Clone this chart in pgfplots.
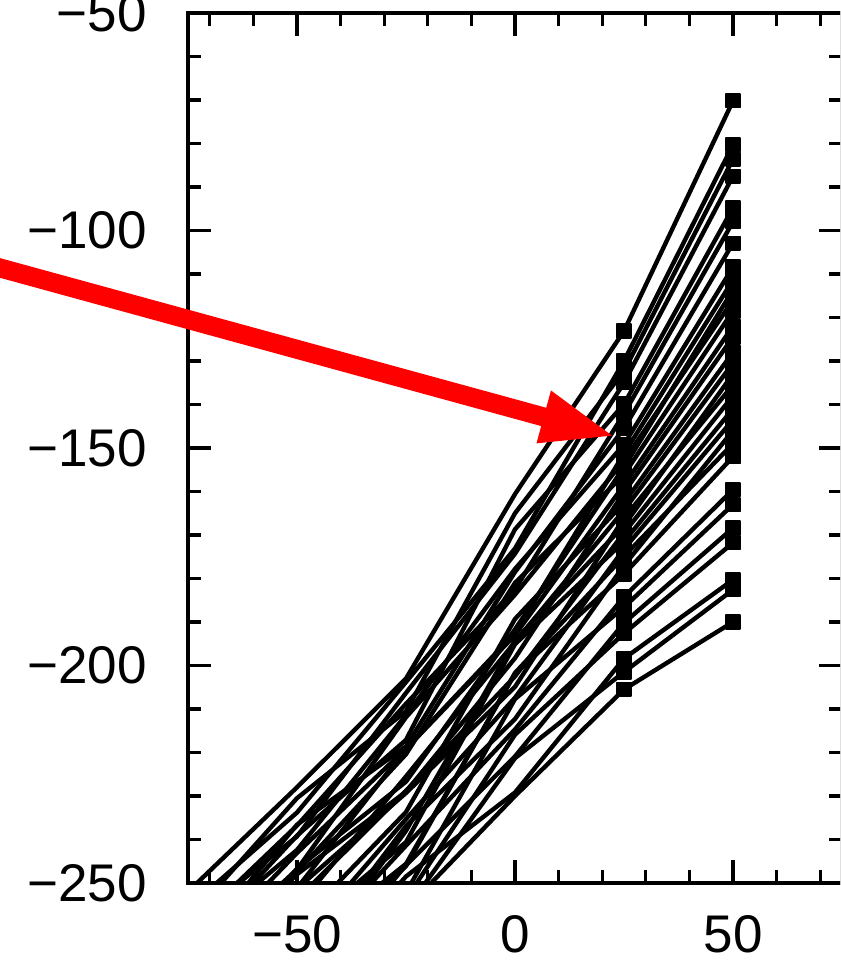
\documentclass[border=0pt]{standalone}
\usepackage{fontspec}
\setmainfont{Liberation Sans}
\usepackage{pgfplots}
\pgfplotsset{compat=1.18}
\usetikzlibrary{arrows.meta}

% one trajectory: the line, then square markers at the two right-hand states
\newcommand{\series}[1]{%
  \addplot[black, line width=2.2pt, line join=round, mark=none] coordinates {#1};
  \addplot[only marks, mark=square*, mark size=3.4pt,
    mark options={fill=black, draw=black, line width=0.8pt, line join=round},
    restrict x to domain=20:60] coordinates {#1};
}

\begin{document}
\fontsize{26.5}{30}\selectfont
\begin{tikzpicture}
% visible window of the figure
\useasboundingbox (-94pt,-39pt) rectangle (326pt,441.5pt);
\clip (-94pt,-39pt) rectangle (326pt,441.5pt);
\begin{axis}[
  at={(0pt,0pt)}, anchor=south west,
  scale only axis, width=327pt, height=435pt,
  xmin=-75, xmax=75, ymin=-250, ymax=-50,
  xtick={-50,0,50}, xticklabels={−50,0,50},
  ytick={-250,-200,-150,-100,-50},
  yticklabels={−250,−200,−150,−100,−50},
  minor xtick={-70,-60,-40,-30,-20,-10,10,20,30,40,60,70},
  minor ytick={-240,-230,-220,-210,-190,-180,-170,-160,-140,-130,-120,-110,-90,-80,-70,-60},
  tick align=inside,
  major tick length=11.5pt, minor tick length=6.5pt,
  axis line style={line width=1.6pt, black},
  tick style={line width=1.6pt, black},
  xticklabel style={anchor=north, inner sep=0pt, yshift=-16pt},
  yticklabel style={anchor=east, inner sep=0pt, xshift=-20.5pt},
]
\series{(-75,-252.0) (-50,-228.0) (-25,-203.0) (0,-160.6) (25,-123.1) (50,-70.2)}
\series{(-75,-255.8) (-50,-233.8) (-25,-203.8) (0,-173.1) (25,-130.0) (50,-80.3)}
\series{(-75,-258.5) (-50,-230.5) (-25,-210.5) (0,-165.0) (25,-132.3) (50,-83.6)}
\series{(-75,-259.3) (-50,-239.3) (-25,-206.3) (0,-174.3) (25,-135.0) (50,-87.5)}
\series{(-75,-266.1) (-50,-239.1) (-25,-217.1) (0,-168.7) (25,-139.9) (50,-94.8)}
\series{(-75,-260.8) (-50,-236.8) (-25,-208.8) (0,-182.5) (25,-142.1) (50,-98.0)}
\series{(-75,-266.6) (-50,-236.6) (-25,-218.6) (0,-178.5) (25,-145.5) (50,-102.9)}
\series{(-75,-263.4) (-50,-242.4) (-25,-211.4) (0,-177.8) (25,-149.2) (50,-108.4)}
\series{(-75,-269.1) (-50,-243.1) (-25,-219.1) (0,-192.5) (25,-151.3) (50,-111.4)}
\series{(-75,-269.9) (-50,-246.9) (-25,-211.9) (0,-183.7) (25,-152.9) (50,-116.0)}
\series{(-75,-274.7) (-50,-246.7) (-25,-226.7) (0,-191.7) (25,-154.4) (50,-113.7)}
\series{(-75,-272.4) (-50,-247.4) (-25,-220.4) (0,-181.0) (25,-156.1) (50,-118.5)}
\series{(-75,-276.2) (-50,-251.2) (-25,-219.2) (0,-193.0) (25,-158.5) (50,-122.0)}
\series{(-75,-273.0) (-50,-248.0) (-25,-229.0) (0,-198.3) (25,-160.2) (50,-124.5)}
\series{(-75,-284.7) (-50,-259.7) (-25,-233.7) (0,-189.3) (25,-162.6) (50,-128.0)}
\series{(-75,-280.5) (-50,-255.5) (-25,-225.5) (0,-194.6) (25,-164.3) (50,-130.5)}
\series{(-75,-276.3) (-50,-251.3) (-25,-229.3) (0,-204.9) (25,-166.1) (50,-135.5)}
\series{(-75,-297.0) (-50,-272.0) (-25,-238.0) (0,-194.2) (25,-167.8) (50,-133.0)}
\series{(-75,-278.8) (-50,-253.8) (-25,-228.8) (0,-202.5) (25,-169.5) (50,-138.0)}
\series{(-75,-286.6) (-50,-261.6) (-25,-240.6) (0,-195.1) (25,-171.5) (50,-141.0)}
\series{(-75,-289.3) (-50,-264.3) (-25,-235.3) (0,-207.4) (25,-173.2) (50,-143.5)}
\series{(-75,-295.1) (-50,-270.1) (-25,-246.1) (0,-201.7) (25,-174.9) (50,-149.0)}
\series{(-75,-294.9) (-50,-269.9) (-25,-236.9) (0,-212.3) (25,-177.0) (50,-146.0)}
\series{(-75,-290.6) (-50,-265.6) (-25,-245.6) (0,-201.9) (25,-179.0) (50,-152.0)}
\series{(-75,-293.4) (-50,-268.4) (-25,-241.4) (0,-214.7) (25,-184.2) (50,-159.6)}
\series{(-75,-300.2) (-50,-275.2) (-25,-252.2) (0,-207.7) (25,-186.6) (50,-163.0)}
\series{(-75,-300.9) (-50,-275.9) (-25,-245.9) (0,-220.9) (25,-190.2) (50,-168.4)}
\series{(-75,-300.7) (-50,-275.7) (-25,-253.7) (0,-215.9) (25,-192.6) (50,-171.8)}
\series{(-75,-301.5) (-50,-276.5) (-25,-248.5) (0,-229.2) (25,-198.4) (50,-180.3)}
\series{(-75,-306.2) (-50,-281.2) (-25,-256.2) (0,-221.3) (25,-201.5) (50,-182.6)}
\series{(-75,-307.0) (-50,-282.0) (-25,-256.0) (0,-230.0) (25,-205.5) (50,-190.0)}
\end{axis}
% pointer onto the column at x = 25
\draw[red, line width=9.5pt, -{Triangle[length=38pt,width=24pt]}]
  (-114pt,313pt) -- (214.5pt,223pt);
\end{tikzpicture}
\end{document}
